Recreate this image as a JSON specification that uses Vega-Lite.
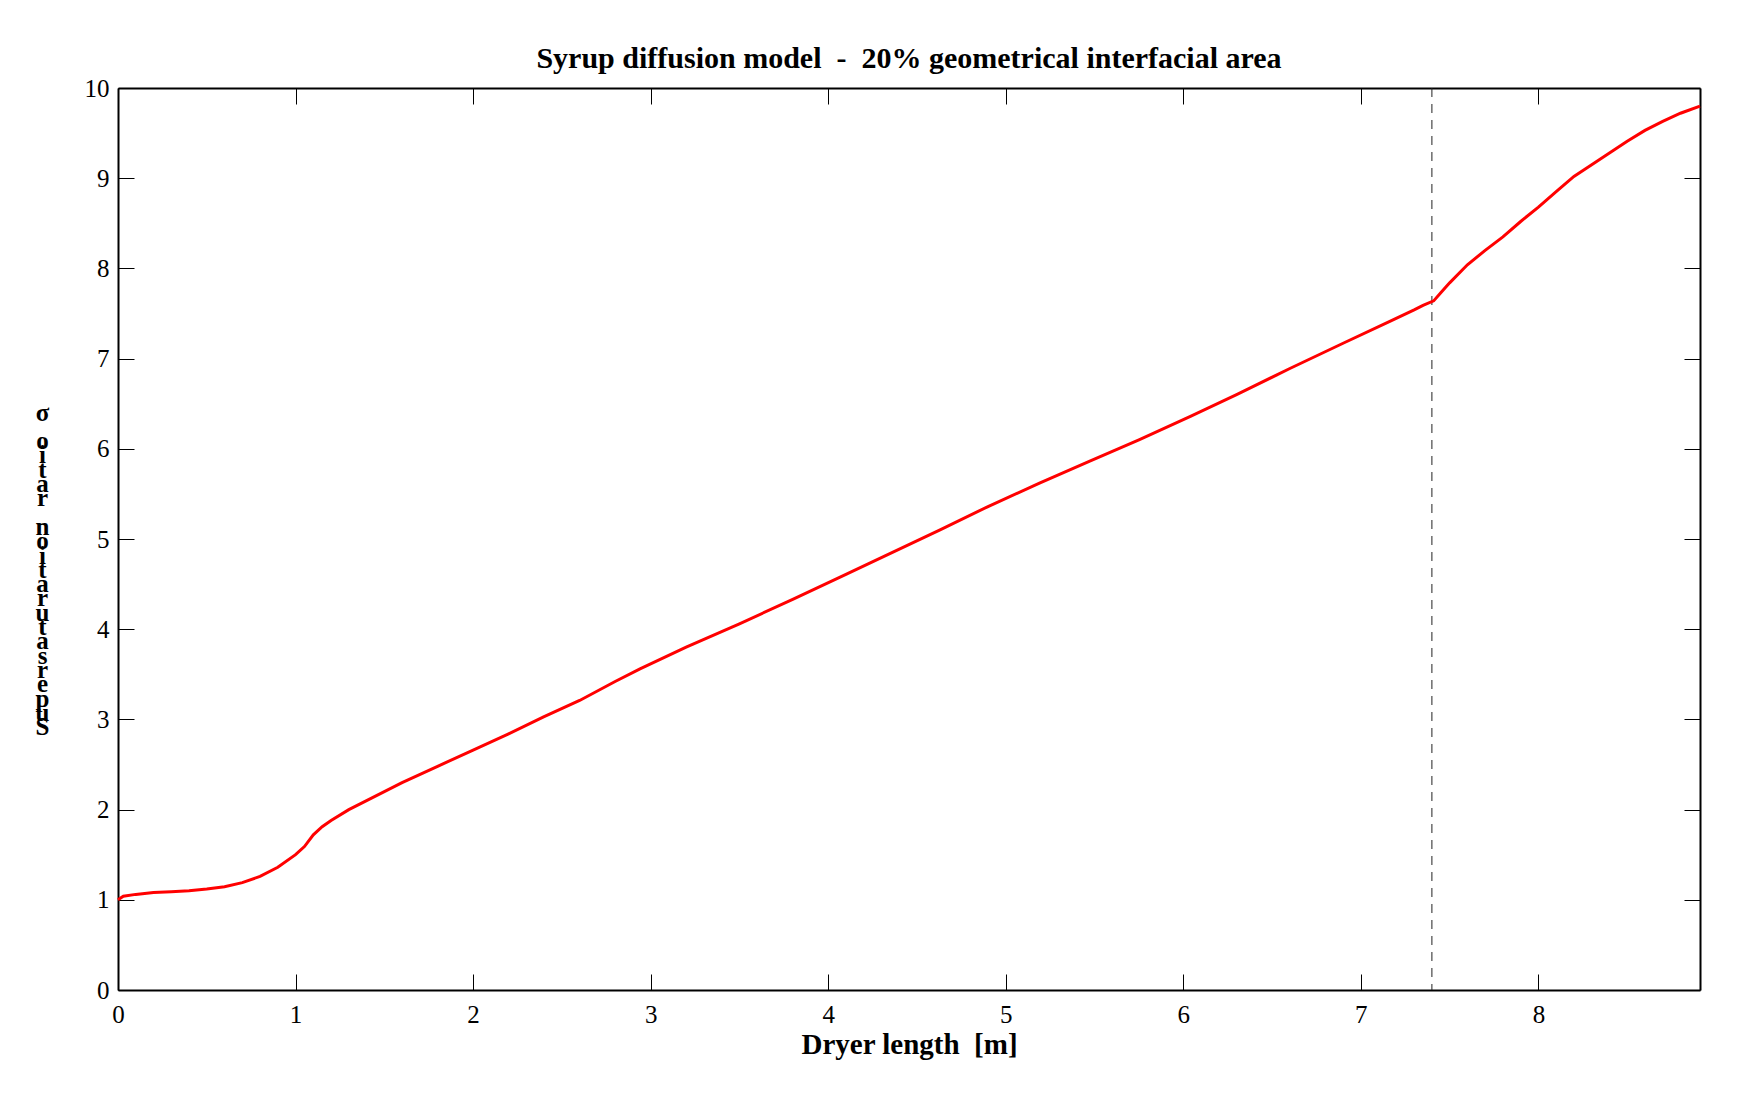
{
  "$schema": "https://vega.github.io/schema/vega-lite/v6.json",
  "width": 1582,
  "height": 902,
  "autosize": {"type": "none"},
  "padding": {"left": 118, "top": 88, "right": 55, "bottom": 121},
  "background": "white",
  "title": {
    "text": "Syrup diffusion model\u00a0\u00a0-\u00a0\u00a020% geometrical interfacial area",
    "font": "Liberation Serif",
    "fontSize": 30,
    "fontWeight": "bold",
    "color": "black",
    "anchor": "middle",
    "baseline": "alphabetic",
    "offset": 21,
    "dy": 43
  },
  "config": {
    "view": {"stroke": null},
    "axis": {
      "domainColor": "black",
      "domainWidth": 2,
      "tickColor": "black",
      "tickWidth": 1,
      "tickSize": -16,
      "grid": false,
      "labelFont": "Liberation Serif",
      "labelFontSize": 25,
      "labelColor": "black",
      "labelFlush": false,
      "titleFont": "Liberation Serif",
      "titleFontWeight": "bold",
      "titleColor": "black"
    }
  },
  "datasets": {
    "profile": [
      {"length_m": 0.0, "sigma": 1.0},
      {"length_m": 0.03, "sigma": 1.04},
      {"length_m": 0.1, "sigma": 1.06},
      {"length_m": 0.2, "sigma": 1.08},
      {"length_m": 0.3, "sigma": 1.09},
      {"length_m": 0.4, "sigma": 1.1},
      {"length_m": 0.5, "sigma": 1.12},
      {"length_m": 0.6, "sigma": 1.145},
      {"length_m": 0.7, "sigma": 1.19},
      {"length_m": 0.8, "sigma": 1.26},
      {"length_m": 0.9, "sigma": 1.36},
      {"length_m": 1.0, "sigma": 1.5},
      {"length_m": 1.05, "sigma": 1.59},
      {"length_m": 1.1, "sigma": 1.72},
      {"length_m": 1.15, "sigma": 1.81},
      {"length_m": 1.2, "sigma": 1.88},
      {"length_m": 1.3, "sigma": 2.0},
      {"length_m": 1.4, "sigma": 2.1},
      {"length_m": 1.5, "sigma": 2.2},
      {"length_m": 1.6, "sigma": 2.3},
      {"length_m": 1.8, "sigma": 2.48},
      {"length_m": 2.0, "sigma": 2.66},
      {"length_m": 2.2, "sigma": 2.84},
      {"length_m": 2.4, "sigma": 3.03},
      {"length_m": 2.6, "sigma": 3.21},
      {"length_m": 2.8, "sigma": 3.42},
      {"length_m": 2.94, "sigma": 3.56},
      {"length_m": 3.2, "sigma": 3.8},
      {"length_m": 3.5, "sigma": 4.06},
      {"length_m": 3.8, "sigma": 4.33},
      {"length_m": 4.07, "sigma": 4.58},
      {"length_m": 4.35, "sigma": 4.84},
      {"length_m": 4.63, "sigma": 5.1},
      {"length_m": 4.9, "sigma": 5.36},
      {"length_m": 5.19, "sigma": 5.62},
      {"length_m": 5.47, "sigma": 5.86},
      {"length_m": 5.75, "sigma": 6.1},
      {"length_m": 6.04, "sigma": 6.36},
      {"length_m": 6.3, "sigma": 6.6},
      {"length_m": 6.6, "sigma": 6.89},
      {"length_m": 6.9, "sigma": 7.17},
      {"length_m": 7.16, "sigma": 7.41},
      {"length_m": 7.3, "sigma": 7.54},
      {"length_m": 7.35, "sigma": 7.59},
      {"length_m": 7.41, "sigma": 7.64},
      {"length_m": 7.45, "sigma": 7.73},
      {"length_m": 7.5, "sigma": 7.84},
      {"length_m": 7.6, "sigma": 8.04},
      {"length_m": 7.7, "sigma": 8.2},
      {"length_m": 7.8, "sigma": 8.35},
      {"length_m": 7.9, "sigma": 8.52},
      {"length_m": 8.0, "sigma": 8.68},
      {"length_m": 8.1, "sigma": 8.85},
      {"length_m": 8.2, "sigma": 9.02},
      {"length_m": 8.3, "sigma": 9.15},
      {"length_m": 8.4, "sigma": 9.28},
      {"length_m": 8.5, "sigma": 9.41},
      {"length_m": 8.6, "sigma": 9.53},
      {"length_m": 8.7, "sigma": 9.63},
      {"length_m": 8.8, "sigma": 9.72},
      {"length_m": 8.91, "sigma": 9.8}
    ],
    "marker": [
      {"length_m": 7.4}
    ]
  },
  "layer": [
    {
      "data": {"name": "marker"},
      "mark": {"type": "rule", "color": "#222222", "strokeWidth": 1, "strokeDash": [9, 7]},
      "encoding": {
        "x": {"field": "length_m", "type": "quantitative", "axis": null}
      }
    },
    {
      "data": {"name": "profile"},
      "mark": {"type": "line", "color": "#ff0000", "strokeWidth": 3},
      "encoding": {
        "x": {
          "field": "length_m",
          "type": "quantitative",
          "scale": {"domain": [0, 8.91], "nice": false, "zero": false},
          "axis": {
            "orient": "bottom",
            "values": [0, 1, 2, 3, 4, 5, 6, 7, 8],
            "format": "d",
            "labelPadding": 28,
            "title": "Dryer length\u00a0\u00a0[m]",
            "titleFontSize": 29,
            "titleBaseline": "alphabetic",
            "titleY": 63
          }
        },
        "y": {
          "field": "sigma",
          "type": "quantitative",
          "scale": {"domain": [0, 10], "nice": false},
          "axis": {
            "orient": "left",
            "values": [0, 1, 2, 3, 4, 5, 6, 7, 8, 9, 10],
            "format": "d",
            "labelPadding": 25,
            "title": ["σ", "\u200b", "o", "i", "t", "a", "r", "\u200b", "n", "o", "i", "t", "a", "r", "u", "t", "a", "s", "r", "e", "p", "u", "S"],
            "titleAngle": 0,
            "titleFontSize": 25,
            "titleLineHeight": 14.3,
            "titleAlign": "center",
            "titleBaseline": "middle",
            "titleX": -76,
            "titleY": 324
          }
        }
      }
    },
    {
      "data": {"name": "profile"},
      "mark": {"type": "line", "opacity": 0},
      "encoding": {
        "x": {
          "field": "length_m",
          "type": "quantitative",
          "axis": {"orient": "top", "values": [0, 1, 2, 3, 4, 5, 6, 7, 8], "labels": false, "title": null}
        },
        "y": {
          "field": "sigma",
          "type": "quantitative",
          "axis": {"orient": "right", "values": [0, 1, 2, 3, 4, 5, 6, 7, 8, 9, 10], "labels": false, "title": null}
        }
      }
    }
  ],
  "resolve": {"axis": {"x": "independent", "y": "independent"}}
}
